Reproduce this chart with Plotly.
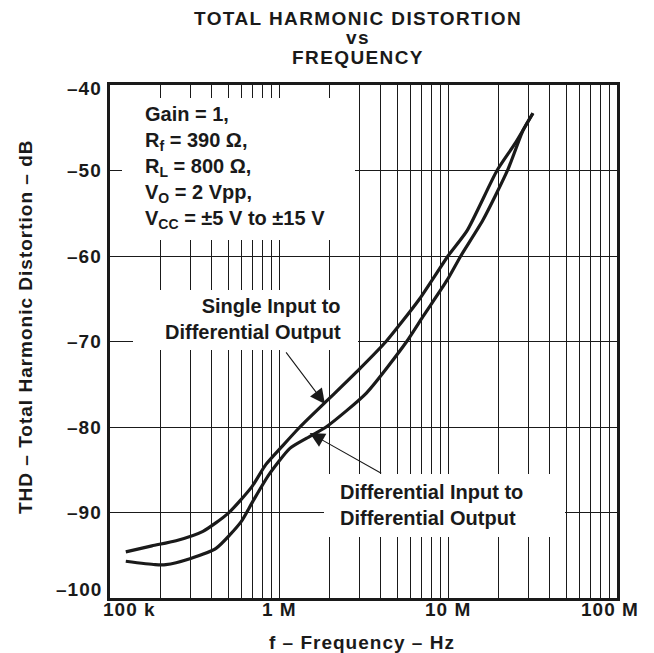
import numpy as np
import plotly.graph_objects as go

# ---------------- data ----------------
single_freq_mhz = [0.124, 0.177, 0.246, 0.355, 0.50, 0.69, 0.835, 1.05, 1.33, 2.0, 3.0, 4.3, 6.8, 10.0, 13.0, 19.5, 25.0, 31.8]
single_thd_db = [-94.6, -93.9, -93.3, -92.2, -90.1, -87.0, -84.4, -82.2, -80.0, -76.6, -73.2, -70.0, -65.0, -60.0, -57.0, -50.0, -46.8, -43.3]

diff_freq_mhz = [0.124, 0.185, 0.214, 0.297, 0.424, 0.596, 0.70, 0.87, 1.16, 1.46, 1.9, 3.3, 5.7, 7.1, 9.9, 11.9, 16.1, 22.6, 27.8, 31.8]
diff_thd_db = [-95.7, -96.1, -96.1, -95.4, -94.2, -91.1, -88.7, -85.6, -82.5, -81.3, -80.0, -76.0, -70.0, -67.1, -62.8, -60.0, -55.8, -49.9, -45.3, -43.3]

x_tick_vals_hz = [1e5, 1e6, 1e7, 1e8]
x_tick_text = ["100 k", "1 M", "10 M", "100 M"]
y_tick_vals = [-100, -90, -80, -70, -60, -50, -40]
y_tick_text = ["\u2013100", "\u201390", "\u201380", "\u201370", "\u201360", "\u201350", "\u201340"]

title_lines = ["TOTAL HARMONIC DISTORTION", "vs", "FREQUENCY"]
x_title = "f \u2013 Frequency \u2013 Hz"
y_title = "THD \u2013 Total Harmonic Distortion \u2013 dB"

single_arrow_tip = (1.87, -77.3)   # MHz, dB
diff_arrow_tip = (1.52, -80.7)     # MHz, dB

# ---------------- layout helpers ----------------
OFF = 8                      # page body margin offset
W, H = 654 - OFF, 653 - OFF
L, R, T, B = 110 - OFF, 617 - OFF, 85 - OFF, 598 - OFF
FONT = "Liberation Sans, Arial, Helvetica, sans-serif"
INK = "#1a1a1a"


def px(x_screen):
    return (x_screen - OFF - L) / (R - L)


def py(y_screen):
    return (B - (y_screen - OFF)) / (B - T)


def spaced(s, ls):
    return '<span style="letter-spacing:%spx">%s</span>' % (ls, s)


fig = go.Figure()
fig.add_trace(go.Scatter(
    x=[f * 1e6 for f in single_freq_mhz], y=single_thd_db, mode="lines",
    name="Single Input to Differential Output",
    line=dict(color=INK, width=3.2, shape="spline", smoothing=0.6),
))
fig.add_trace(go.Scatter(
    x=[f * 1e6 for f in diff_freq_mhz], y=diff_thd_db, mode="lines",
    name="Differential Input to Differential Output",
    line=dict(color=INK, width=3.2, shape="spline", smoothing=0.6),
))

# white boxes behind the labels (hide the grid there)
for (x0, x1, y0, y1) in [(122, 355, 98, 240), (133, 358, 290, 350), (324, 565, 474, 537)]:
    fig.add_shape(type="rect", xref="paper", yref="paper",
                  x0=px(x0), x1=px(x1), y0=py(y1), y1=py(y0),
                  fillcolor="white", line=dict(width=0), layer="above")

ann_font = dict(family=FONT, size=20, color=INK, weight="bold")
fig.add_annotation(
    xref="paper", yref="paper", x=px(143), y=py(167), xanchor="left", yanchor="middle",
    align="left", showarrow=False, font=ann_font,
    text="Gain = 1,<br>R<sub>f</sub> = 390 \u03a9,<br>R<sub>L</sub> = 800 \u03a9,<br>"
         "V<sub>O</sub> = 2 Vpp,<br>V<sub>CC</sub> = \u00b15 V to \u00b115 V",
)
fig.add_annotation(
    xref="paper", yref="paper", x=px(343), y=py(319), xanchor="right", yanchor="middle",
    align="right", showarrow=False, font=ann_font,
    text="Single Input to<br>Differential Output",
)
fig.add_annotation(
    xref="paper", yref="paper", x=px(338), y=py(505), xanchor="left", yanchor="middle",
    align="left", showarrow=False, font=ann_font,
    text="Differential Input to<br>Differential Output",
)
# arrows
fig.add_annotation(
    x=np.log10(single_arrow_tip[0] * 1e6), y=single_arrow_tip[1], xref="x", yref="y",
    text="", showarrow=True, ax=-40, ay=-53, axref="pixel", ayref="pixel",
    arrowhead=2, arrowsize=2.7, arrowwidth=1.1, arrowcolor=INK, standoff=0,
)
fig.add_annotation(
    x=np.log10(diff_arrow_tip[0] * 1e6), y=diff_arrow_tip[1], xref="x", yref="y",
    text="", showarrow=True, ax=73, ay=41, axref="pixel", ayref="pixel",
    arrowhead=2, arrowsize=2.7, arrowwidth=1.1, arrowcolor=INK, standoff=0,
)

# chart title (three tightly stacked lines)
title_font = dict(family=FONT, size=19, color=INK, weight="bold")
for line, yc in zip(title_lines, [18, 37, 57]):
    fig.add_annotation(xref="paper", yref="paper", x=px(358), y=py(yc),
                       xanchor="center", yanchor="middle", showarrow=False,
                       text=spaced(line, 1.4), font=title_font)

# axis titles
axt_font = dict(family=FONT, size=19, color=INK, weight="bold")
fig.add_annotation(xref="paper", yref="paper", x=px(362), y=py(642),
                   xanchor="center", yanchor="middle", showarrow=False,
                   text=spaced(x_title, 1.0), font=axt_font)
fig.add_annotation(xref="paper", yref="paper", x=px(25), y=py(327),
                   xanchor="center", yanchor="middle", showarrow=False, textangle=-90,
                   text=spaced(y_title, 1.0), font=axt_font)

# tick labels, placed on the axes' own scales (end labels nudged inward as in the reference)
tick_font = dict(family=FONT, size=19, color=INK, weight="bold")
x_nudge = {0: 19, len(x_tick_vals_hz) - 1: -7}
for i, (v, t) in enumerate(zip(x_tick_vals_hz, x_tick_text)):
    fig.add_annotation(xref="x", yref="paper", x=np.log10(v), y=0,
                       xanchor="center", yanchor="middle", yshift=-11,
                       xshift=x_nudge.get(i, 0), showarrow=False,
                       text=spaced(t, 1.0), font=tick_font, borderpad=0)
y_nudge = {-100: 9, -40: -3}
for v, t in zip(y_tick_vals, y_tick_text):
    fig.add_annotation(xref="paper", yref="y", x=0, y=v,
                       xanchor="right", yanchor="middle", xshift=-7,
                       yshift=y_nudge.get(v, 0), showarrow=False,
                       text=spaced(t, 1.0), font=tick_font, borderpad=0)

axis_common = dict(
    showline=True, mirror=True, linewidth=2.5, linecolor=INK,
    showgrid=True, gridcolor=INK, gridwidth=1, zeroline=False,
    ticks="", showticklabels=False,
)

fig.update_xaxes(
    type="log", range=[5, 8], tickvals=x_tick_vals_hz,
    minor=dict(dtick="D1", showgrid=True, gridcolor=INK, gridwidth=1, ticks=""),
    **axis_common,
)
fig.update_yaxes(
    range=[-100, -40], tickvals=y_tick_vals,
    **axis_common,
)

fig.update_layout(
    width=W, height=H,
    margin=dict(l=L, r=W - R, t=T, b=H - B, autoexpand=False),
    paper_bgcolor="white", plot_bgcolor="white",
    showlegend=False,
)

fig.write_html("out.html")
